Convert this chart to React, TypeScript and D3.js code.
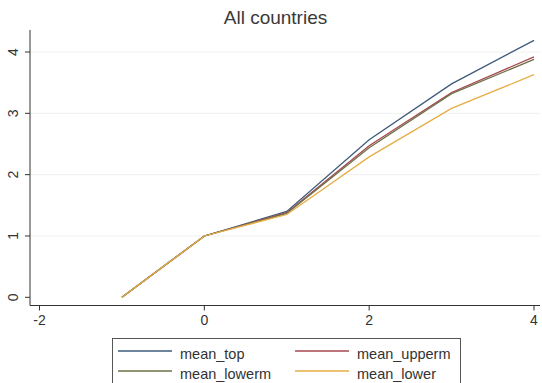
import React from "react";
import * as d3 from "d3";

const periods = [-1, 0, 1, 2, 3, 4];
const meanTop = [0, 1, 1.4, 2.57, 3.48, 4.19];
const meanUpperm = [0, 1, 1.38, 2.47, 3.34, 3.92];
const meanLowerm = [0, 1, 1.37, 2.44, 3.32, 3.88];
const meanLower = [0, 1, 1.35, 2.29, 3.08, 3.63];
const xTicks = [-2, 0, 2, 4];
const yTicks = [0, 1, 2, 3, 4];

const seriesNames = ["mean_top", "mean_upperm", "mean_lowerm", "mean_lower"];
const seriesValues = [meanTop, meanUpperm, meanLowerm, meanLower];
const seriesColors = ["#3d5c7a", "#a5474f", "#6e7048", "#e6ad45"];

export default function App() {
  const W = 542;
  const H = 383;
  const x = d3.scaleLinear().domain([-2, 4]).range([39.5, 534]);
  const y = d3.scaleLinear().domain([0, 4]).range([297.3, 52]);
  const line = d3
    .line<number>()
    .x((_, i) => x(periods[i]))
    .y((d) => y(d));
  const font = "'Liberation Sans', Arial, sans-serif";
  const axisX = 30;
  const axisY = 305.5;

  return (
    <svg
      width={W}
      height={H}
      style={{ position: "absolute", left: 0, top: 0, background: "#fff" }}
      fontFamily={font}
    >
      <rect width={W} height={H} fill="#fff" />
      <text x={275.5} y={24} textAnchor="middle" fontSize={19} fill="#3a3a3a">
        All countries
      </text>

      {/* horizontal gridlines */}
      {yTicks.slice(1).map((t) => (
        <line key={t} x1={axisX} x2={540} y1={y(t)} y2={y(t)} stroke="#eef0f2" strokeWidth={1} />
      ))}

      {/* series */}
      {seriesValues.map((vals, i) => (
        <path
          key={seriesNames[i]}
          d={line(vals) || ""}
          fill="none"
          stroke={seriesColors[i]}
          strokeWidth={1.3}
        />
      ))}

      {/* y axis */}
      <line x1={axisX} x2={axisX} y1={30} y2={axisY} stroke="#333" strokeWidth={1} />
      {yTicks.map((t) => (
        <g key={t}>
          <line x1={axisX - 5} x2={axisX} y1={y(t)} y2={y(t)} stroke="#333" />
          <text
            transform={`translate(18,${y(t)}) rotate(-90)`}
            textAnchor="middle"
            fontSize={14}
            fill="#333"
          >
            {t}
          </text>
        </g>
      ))}

      {/* x axis */}
      <line x1={axisX} x2={540} y1={axisY} y2={axisY} stroke="#333" strokeWidth={1} />
      {xTicks.map((t) => (
        <g key={t}>
          <line x1={x(t)} x2={x(t)} y1={axisY} y2={axisY + 5} stroke="#333" />
          <text x={x(t)} y={axisY + 19.5} textAnchor="middle" fontSize={14} fill="#333">
            {t}
          </text>
        </g>
      ))}

      {/* legend */}
      <rect x={112.5} y={338.5} width={348} height={60} fill="#fff" stroke="#555" strokeWidth={1} />
      {seriesNames.map((name, i) => {
        const col = i % 2;
        const row = Math.floor(i / 2);
        const lx = col === 0 ? 118 : 295;
        const ty = row === 0 ? 359 : 379;
        return (
          <g key={name}>
            <line x1={lx} x2={lx + 54} y1={ty - 8} y2={ty - 8} stroke={seriesColors[i]} strokeWidth={1.3} />
            <text x={col === 0 ? 180 : 357} y={ty} fontSize={14.5} fill="#333">
              {name}
            </text>
          </g>
        );
      })}
    </svg>
  );
}
